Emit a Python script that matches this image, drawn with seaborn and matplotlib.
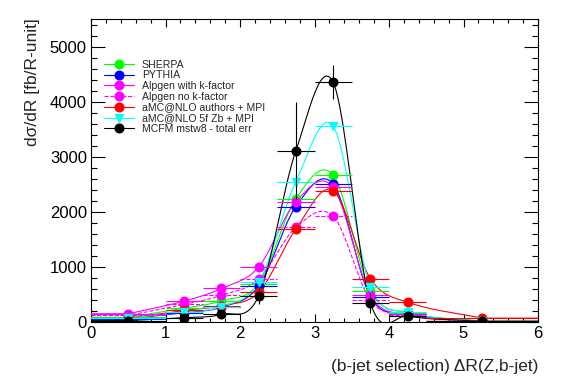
import numpy as np
import pandas as pd
import matplotlib
matplotlib.use('Agg')
import matplotlib.pyplot as plt
import seaborn as sns
from matplotlib.lines import Line2D
from matplotlib.ticker import MultipleLocator

# bin centres and half widths
dr_centres = [0.5, 1.25, 1.75, 2.25, 2.75, 3.25, 3.75, 4.25, 5.25]
dr_halfwidths = [0.5, 0.25, 0.25, 0.25, 0.25, 0.25, 0.25, 0.25, 0.75]

sherpa = [85, 250, 385, 700, 2240, 2670, 570, 170, 15]
pythia = [60, 170, 270, 650, 2100, 2510, 460, 150, 10]
alpgen_k = [150, 380, 610, 1000, 2190, 2450, 490, 140, 10]
alpgen_nok = [120, 320, 485, 780, 1720, 1925, 400, 120, 8]
amc_authors = [70, 210, 300, 540, 1690, 2390, 790, 360, 70]
amc_5f = [70, 180, 280, 720, 2550, 3560, 645, 180, 10]
mcfm = [25, 80, 139, 473, 3115, 4360, 351, 109, 12]
mcfm_err = [15, 30, 50, 150, 880, 310, 180, 60, 10]

labels = ['SHERPA', 'PYTHIA', 'Alpgen with k-factor', 'Alpgen no k-factor',
          'aMC@NLO authors + MPI', 'aMC@NLO 5f Zb + MPI', 'MCFM mstw8 - total err']
series = [sherpa, pythia, alpgen_k, alpgen_nok, amc_authors, amc_5f, mcfm]
colors = ['#00ff00', '#0000ff', '#ff00ff', '#ff00ff', '#ff0000', '#00ffff', '#000000']
styles = ['-', '-', '-', '--', '-', '-', '-']
markers = ['o', 'o', 'o', 'o', 'o', 'v', 'o']


def smooth_curve(xp, yp, n=40):
    # catmull-rom style hermite curve through the points, flat outside
    xp = np.asarray(xp, float)
    yp = np.asarray(yp, float)
    m = np.gradient(yp, xp, edge_order=1)
    m[1:-1] = (yp[2:] - yp[:-2]) / (xp[2:] - xp[:-2])
    xs_all = [0.0]
    ys_all = [yp[0]]
    for k in range(len(xp) - 1):
        h = xp[k + 1] - xp[k]
        t = np.linspace(0, 1, n)
        h00 = 2 * t**3 - 3 * t**2 + 1
        h10 = t**3 - 2 * t**2 + t
        h01 = -2 * t**3 + 3 * t**2
        h11 = t**3 - t**2
        ys = h00 * yp[k] + h10 * h * m[k] + h01 * yp[k + 1] + h11 * h * m[k + 1]
        xs_all.extend(xp[k] + t * h)
        ys_all.extend(ys)
    xs_all.append(6.0)
    ys_all.append(yp[-1])
    return pd.DataFrame({'x': xs_all, 'y': ys_all})


sns.set_theme(style='ticks')
plt.rcParams['font.family'] = ['Liberation Sans', 'DejaVu Sans']

fig = plt.figure(figsize=(5.67, 3.84), dpi=100)
ax = fig.add_axes([91 / 567, 62 / 384, 447 / 567, 303 / 384])

handles = []
for i, (vals, lab, col, ls, mk) in enumerate(zip(series, labels, colors, styles, markers)):
    curve = smooth_curve(dr_centres, vals)
    sns.lineplot(data=curve, x='x', y='y', color=col, linestyle=ls, linewidth=0.8,
                 sort=False, estimator=None, ax=ax, zorder=2 + i)
    yerr = mcfm_err if lab.startswith('MCFM') else None
    eb = ax.errorbar(dr_centres, vals, xerr=dr_halfwidths, yerr=yerr, fmt=mk,
                     color=col, ecolor=col, elinewidth=0.8, markersize=6.2,
                     capsize=0, zorder=10 + i)
    if ls == '--':
        for lc in eb[2]:
            lc.set_linestyle('--')
    handles.append(Line2D([0], [0], color=col, linestyle=ls, linewidth=0.8,
                          marker=mk, markersize=6.2, label=lab))

ax.set_xlim(0, 6)
ax.set_ylim(0, 5510)
ax.xaxis.set_major_locator(MultipleLocator(1))
ax.xaxis.set_minor_locator(MultipleLocator(0.2))
ax.yaxis.set_major_locator(MultipleLocator(1000))
ax.yaxis.set_minor_locator(MultipleLocator(200))
ax.tick_params(axis='both', which='both', direction='in', top=True, right=True,
               colors='black', labelsize=12, width=0.8)
ax.tick_params(axis='x', which='major', length=5.8, pad=3)
ax.tick_params(axis='x', which='minor', length=2.9)
ax.tick_params(axis='y', which='major', length=10, pad=3)
ax.tick_params(axis='y', which='minor', length=4.3)
for sp in ax.spines.values():
    sp.set_visible(True)
    sp.set_color('black')
    sp.set_linewidth(0.8)

ax.set_xlabel('')
ax.set_ylabel('')
fig.text(538 / 567, 1 - 367 / 384, '(b-jet selection) \u0394R(Z,b-jet)',
         ha='right', va='center', fontsize=12.5)
fig.text(33 / 567, 1 - 18 / 384, 'd\u03c3/dR [fb/R-unit]', rotation=90,
         ha='center', va='top', fontsize=12.5)

ax.legend(handles=handles, loc='upper left', bbox_to_anchor=(0.03, 0.866),
          frameon=False, fontsize=7.6, handlelength=2.8, handletextpad=0.75,
          labelspacing=0.07, borderpad=0, borderaxespad=0)

fig.savefig('out.png', dpi=100)
